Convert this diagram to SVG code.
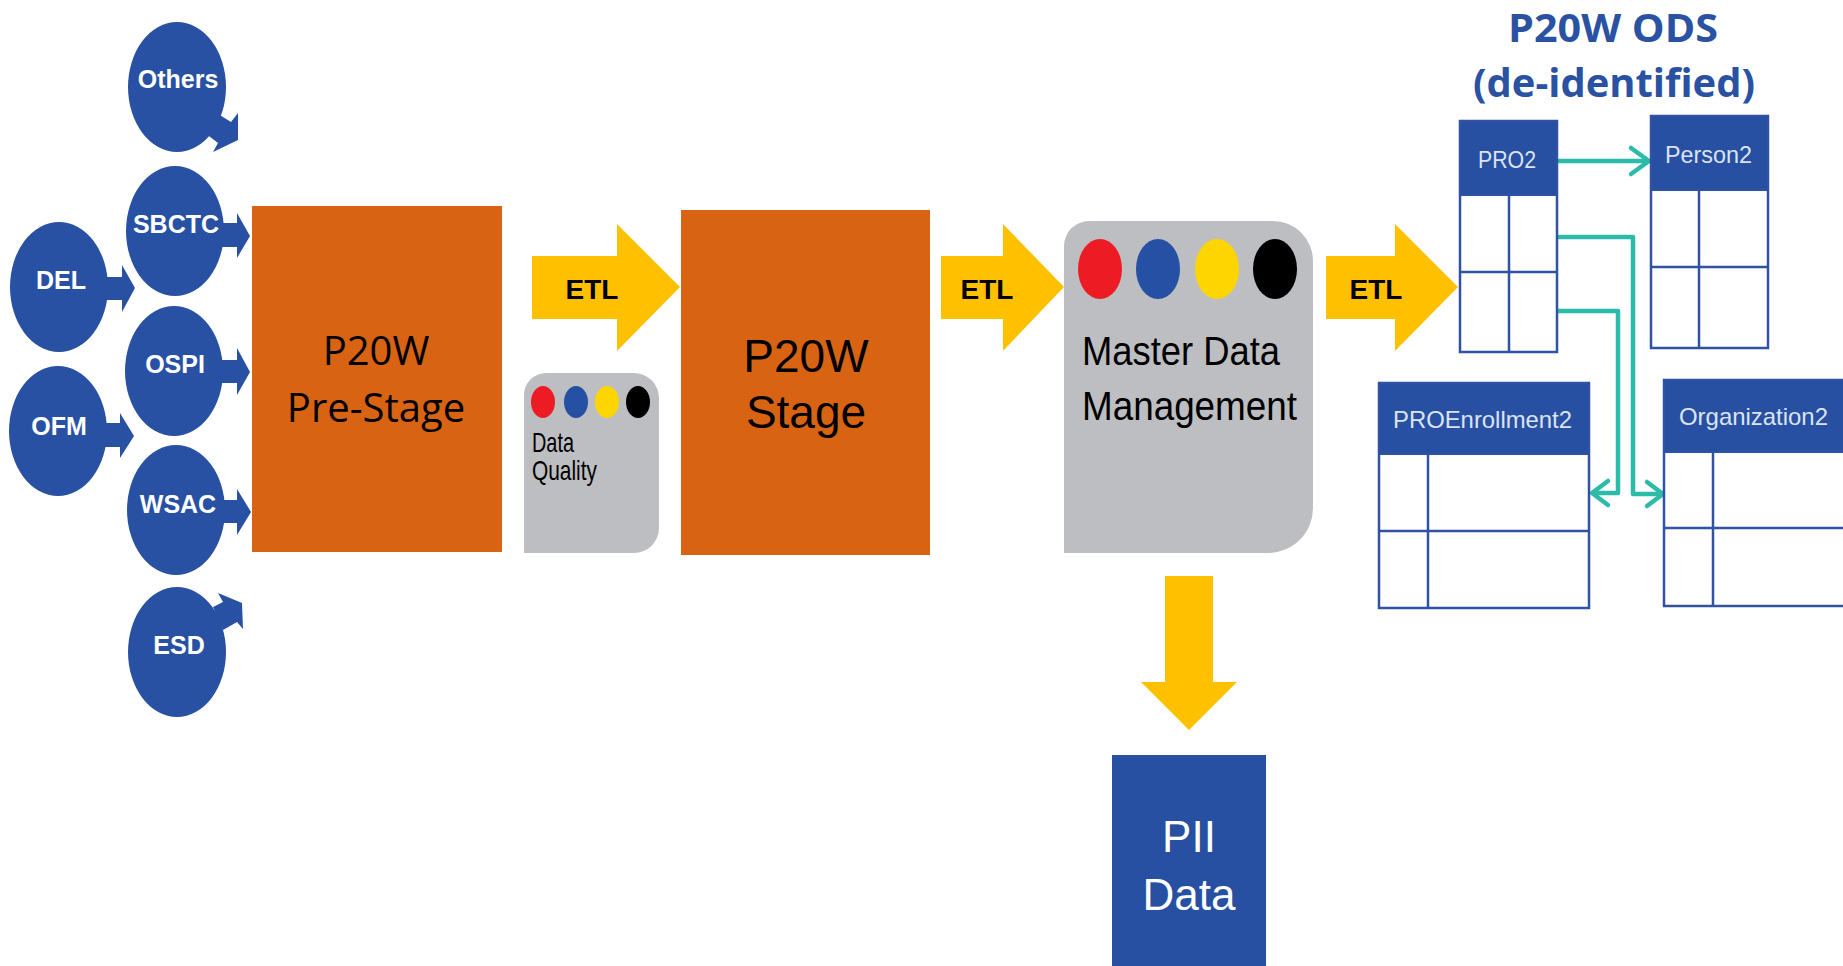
<svg xmlns="http://www.w3.org/2000/svg" width="1843" height="966" viewBox="0 0 1843 966">
<defs>
<style>
.src{fill:#2851A3}
.srct{font-family:"Liberation Sans",Arial,sans-serif;font-weight:bold;font-size:25px;fill:#fff;text-anchor:middle}
.orange{fill:#D86413}
.gray{fill:#BDBEC1}
.etl{fill:#FFC000}
.etlt{font-family:"Liberation Sans",Arial,sans-serif;font-weight:bold;font-size:28px;fill:#000;text-anchor:middle}
.futura{font-family:"Liberation Sans",Arial,sans-serif;fill:#000}
.tbl{fill:#fff;stroke:#2F52A2;stroke-width:2.5}
.hdr{fill:#2750A3;stroke:#2F52A2;stroke-width:2}
.hdrt{font-family:"Liberation Sans",Arial,sans-serif;font-size:24px;fill:#DCE3F1}
.cell{stroke:#2F52A2;stroke-width:2.5;fill:none}
.teal{stroke:#2DBBA9;stroke-width:4.5;fill:none;stroke-linecap:round;stroke-linejoin:round}
</style>
</defs>
<rect width="1843" height="966" fill="#fff"/>

<g id="connectors">
<polygon class="src" points="215,112 231,122 238,113 238,140 213,152 218,143 205,133"/>
<polygon class="src" points="218,223 237,223 237,213 250,236 237,258 237,247 218,247"/>
<polygon class="src" points="100,277 122,277 122,265 135,288 122,312 122,300 100,300"/>
<polygon class="src" points="218,360 237,360 237,348 250,372 237,395 237,383 218,383"/>
<polygon class="src" points="100,423 120,423 120,413 134,436 120,458 120,447 100,447"/>
<polygon class="src" points="220,500 237,500 237,489 251,512 237,535 237,523 220,523"/>
<polygon class="src" points="213,607 223,602 218,593 242,603 243,629 237,622 223,630"/>
<polygon class="etl" points="532,256 617,256 617,224 680,287 617,351 617,319 532,319"/>
<polygon class="etl" points="941,256 1003,256 1003,224 1064,287 1003,351 1003,319 941,319"/>
<polygon class="etl" points="1326,256 1395,256 1395,224 1458,287 1395,351 1395,319 1326,319"/>
<polygon class="etl" points="1165,576 1213,576 1213,682 1237,682 1189,730 1141,682 1165,682"/>
<text class="etlt" x="592" y="299">ETL</text>
<text class="etlt" x="987" y="299">ETL</text>
<text class="etlt" x="1376" y="299">ETL</text>
<line class="teal" x1="1559" y1="161" x2="1648" y2="161"/>
<polyline class="teal" points="1631,148 1649,161 1631,174"/>
<polyline class="teal" points="1559,237 1633,237 1633,494 1661,494"/>
<polyline class="teal" points="1647,482 1663,494 1647,506"/>
<polyline class="teal" points="1558,311 1618,311 1618,493 1593,493"/>
<polyline class="teal" points="1608,481 1592,493 1608,505"/>
</g>

<g id="others"><ellipse class="src" cx="177" cy="87" rx="49" ry="65"/><text class="srct" x="178" y="88">Others</text></g>
<g id="sbctc"><ellipse class="src" cx="175" cy="231" rx="49" ry="65"/><text class="srct" x="176" y="233">SBCTC</text></g>
<g id="del"><ellipse class="src" cx="59" cy="287" rx="49" ry="65"/><text class="srct" x="61" y="289">DEL</text></g>
<g id="ospi"><ellipse class="src" cx="174" cy="371" rx="49" ry="65"/><text class="srct" x="175" y="373">OSPI</text></g>
<g id="ofm"><ellipse class="src" cx="58" cy="431" rx="49" ry="65"/><text class="srct" x="59" y="435">OFM</text></g>
<g id="wsac"><ellipse class="src" cx="176" cy="510" rx="49" ry="65"/><text class="srct" x="178" y="513">WSAC</text></g>
<g id="esd"><ellipse class="src" cx="177" cy="652" rx="49" ry="65"/><text class="srct" x="179" y="654">ESD</text></g>

<g id="prestage">
<rect class="orange" x="252" y="206" width="250" height="346"/>
<text x="376" y="365" font-family="'Open Sans','Liberation Sans',sans-serif" font-size="40" text-anchor="middle" fill="#000">P20W</text>
<text x="376" y="422" font-family="'Open Sans','Liberation Sans',sans-serif" font-size="40" text-anchor="middle" fill="#000">Pre-Stage</text>
</g>

<g id="dataquality">
<path class="gray" d="M524,553 L524,395 A22,22 0 0 1 546,373 L634,373 A25,25 0 0 1 659,398 L659,528 A25,25 0 0 1 634,553 Z"/>
<ellipse cx="543" cy="402" rx="12" ry="16" fill="#ED1C24"/>
<ellipse cx="576" cy="402" rx="12" ry="16" fill="#2550A3"/>
<ellipse cx="607" cy="402" rx="12" ry="16" fill="#FFD500"/>
<ellipse cx="638" cy="402" rx="12" ry="16" fill="#000"/>
<text class="futura" x="532" y="452" font-size="28" textLength="42" lengthAdjust="spacingAndGlyphs">Data</text>
<text class="futura" x="532" y="480" font-size="28" textLength="65" lengthAdjust="spacingAndGlyphs">Quality</text>
</g>

<g id="stage">
<rect class="orange" x="681" y="210" width="249" height="345"/>
<text x="806" y="372" font-family="'Liberation Sans',Arial,sans-serif" font-size="46" text-anchor="middle" fill="#000">P20W</text>
<text x="806" y="428" font-family="'Liberation Sans',Arial,sans-serif" font-size="46" text-anchor="middle" fill="#000">Stage</text>
</g>

<g id="mdm">
<path class="gray" d="M1064,553 L1064,246 A25,25 0 0 1 1089,221 L1273,221 A40,40 0 0 1 1313,261 L1313,508 A45,45 0 0 1 1268,553 Z"/>
<ellipse cx="1100" cy="269" rx="22" ry="30" fill="#ED1C24"/>
<ellipse cx="1158" cy="269" rx="22" ry="30" fill="#2550A3"/>
<ellipse cx="1217" cy="269" rx="22" ry="30" fill="#FFD500"/>
<ellipse cx="1275" cy="269" rx="22" ry="30" fill="#000"/>
<text class="futura" x="1082" y="365" font-size="40" textLength="198" lengthAdjust="spacingAndGlyphs">Master Data</text>
<text class="futura" x="1082" y="420" font-size="40" textLength="215" lengthAdjust="spacingAndGlyphs">Management</text>
</g>

<g id="pii">
<rect x="1112" y="755" width="154" height="215" fill="#2750A3"/>
<text x="1189" y="852" font-family="'Liberation Sans',Arial,sans-serif" font-size="44" text-anchor="middle" fill="#fff">PII</text>
<text x="1189" y="910" font-family="'Liberation Sans',Arial,sans-serif" font-size="44" text-anchor="middle" fill="#fff">Data</text>
</g>

<g id="ods-title">
<text x="1613" y="42" font-family="'Open Sans','Liberation Sans',sans-serif" font-weight="bold" font-size="39" text-anchor="middle" fill="#2A52A3" textLength="210" lengthAdjust="spacingAndGlyphs">P20W ODS</text>
<text x="1614" y="97" font-family="'Open Sans','Liberation Sans',sans-serif" font-weight="bold" font-size="39" text-anchor="middle" fill="#2A52A3" textLength="282" lengthAdjust="spacingAndGlyphs">(de-identified)</text>
</g>

<g id="pro2">
<rect class="tbl" x="1460" y="121" width="97" height="231"/>
<rect class="hdr" x="1460" y="121" width="97" height="74"/>
<line class="cell" x1="1509" y1="195" x2="1509" y2="352"/>
<line class="cell" x1="1460" y1="272" x2="1557" y2="272"/>
<text class="hdrt" x="1478" y="168" textLength="58" lengthAdjust="spacingAndGlyphs">PRO2</text>
</g>

<g id="person2">
<rect class="tbl" x="1651" y="116" width="117" height="232"/>
<rect class="hdr" x="1651" y="116" width="117" height="74"/>
<line class="cell" x1="1699" y1="190" x2="1699" y2="348"/>
<line class="cell" x1="1651" y1="267" x2="1768" y2="267"/>
<text class="hdrt" x="1665" y="163" textLength="87" lengthAdjust="spacingAndGlyphs">Person2</text>
</g>

<g id="proenrollment2">
<rect class="tbl" x="1379" y="383" width="210" height="225"/>
<rect class="hdr" x="1379" y="383" width="210" height="71"/>
<line class="cell" x1="1428" y1="454" x2="1428" y2="608"/>
<line class="cell" x1="1379" y1="531" x2="1589" y2="531"/>
<text class="hdrt" x="1393" y="428" textLength="179" lengthAdjust="spacingAndGlyphs">PROEnrollment2</text>
</g>

<g id="organization2">
<rect class="tbl" x="1664" y="380" width="190" height="226"/>
<rect class="hdr" x="1664" y="380" width="190" height="72"/>
<line class="cell" x1="1713" y1="452" x2="1713" y2="606"/>
<line class="cell" x1="1664" y1="528" x2="1854" y2="528"/>
<text class="hdrt" x="1679" y="425" textLength="149" lengthAdjust="spacingAndGlyphs">Organization2</text>
</g>
</svg>
